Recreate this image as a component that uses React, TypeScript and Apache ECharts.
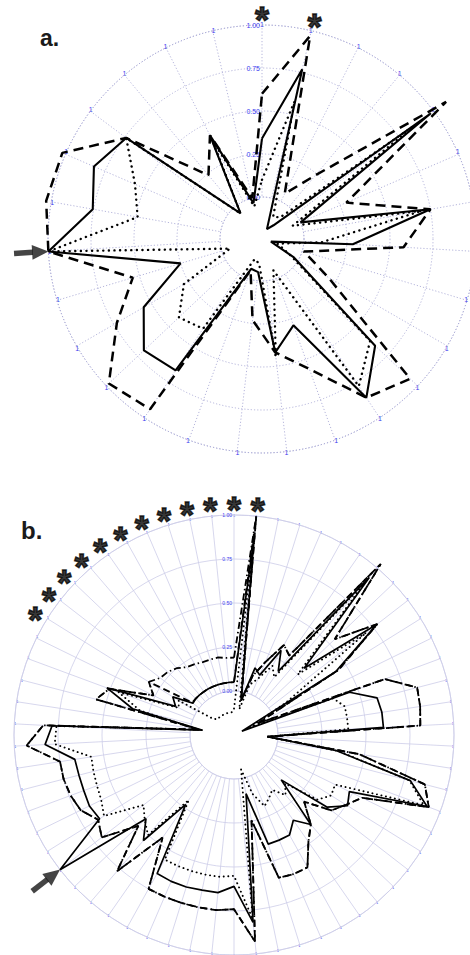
import React, { useEffect, useRef } from 'react';
import * as echarts from 'echarts';

// ---------- data ----------
const spokeLabel = '1';
const radiusTicks = [0, 0.25, 0.5, 0.75, 1];

// panel a: 27 categories (clockwise from top)
const aSolid = [0.34, 0.77, -0.18, -0.14, 0.98, 0.0, 0.75, 0.285, -0.19, -0.03, 0.66, 0.86, 0.29, 0.42, -0.05, -0.06, 0.67, 0.70, 0.55, 0.25, 1.0, 0.755, 0.82, 0.74, -0.05, 0.43, -0.03];
const aDashed = [0.6, 0.97, 0.05, 0.24, 1.09, 0.29, 0.75, 0.58, 0.01, 0.2, 0.94, 0.86, 0.56, 0.42, 0.23, -0.05, 0.94, 0.98, 0.73, 0.54, 1.0, 1.03, 1.02, 0.74, 0.24, 0.43, 0.0];
const aDotted = [0.1, 0.58, -0.1, -0.08, 0.85, -0.05, 0.7, 0.1, -0.15, -0.05, 0.62, 0.78, -0.05, 0.45, -0.1, -0.12, 0.38, 0.42, 0.28, -0.05, 1.0, 0.49, 0.56, 0.74, -0.05, 0.4, -0.05];
const aStars = [0, 1];
const aArrow = 20;

// panel b: 62 categories (clockwise from top)
const bSolid = [0.05, 0.875, -0.05, 0.15, 0.12, 0.30, 0.19, 0.93, 0.30, 0.775, 0.43, -0.2, 0.45, 0.59, 0.60, 0.60, -0.06, 0.34, 0.785, 0.92, 0.48, 0.51, 0.42, 0.12, 0.42, 0.34, 0.40, 0.40, 0.40, 0.09, 0.82, 0.61, 0.65, 0.65, 0.655, 0.655, 0.65, 0.23, 0.54, 0.44, 1.0, 0.65, 0.665, 0.66, 0.66, 0.665, 0.825, 0.785, -0.07, 0.345, 0.52, 0.12, 0.16, 0.045, 0.05, 0.05, 0.05, 0.05, 0.05, 0.05, 0.05, 0.05];
const bDashed = [0.05, 1.0, -0.05, 0.1, 0.2, 0.335, 0.3, 1.03, 0.54, 0.78, 0.45, -0.1, 0.665, 0.825, 0.82, 0.81, -0.06, 0.47, 0.87, 0.93, 0.56, 0.5, 0.45, 0.3, 0.42, 0.49, 0.61, 0.61, 0.6, 0.245, 0.93, 0.74, 0.75, 0.75, 0.75, 0.75, 0.75, 0.46, 0.77, 0.5, 0.7, 0.66, 0.72, 0.74, 0.75, 0.75, 0.93, 0.835, -0.05, 0.56, 0.505, 0.26, 0.32, 0.05, 0.05, 0.05, 0.05, 0.05, 0.05, 0.05, 0.05, 0.05];
const bDashDot = [0.19, 1.0, -0.05, 0.1, 0.2, 0.335, 0.3, 1.03, 0.54, 0.78, 0.45, -0.1, 0.665, 0.825, 0.82, 0.81, -0.06, 0.47, 0.87, 0.93, 0.56, 0.5, 0.45, 0.3, 0.42, 0.49, 0.61, 0.61, 0.6, 0.245, 0.93, 0.74, 0.75, 0.75, 0.75, 0.75, 0.75, 0.46, 0.77, 0.5, 0.7, 0.66, 0.72, 0.74, 0.75, 0.75, 0.93, 0.835, -0.05, 0.56, 0.505, 0.26, 0.32, 0.28, 0.27, 0.25, 0.22, 0.21, 0.2, 0.2, 0.2, 0.19];
const bDotted = [-0.1, 0.85, -0.1, 0.05, 0.1, 0.2, 0.15, 0.88, 0.25, 0.7, 0.1, -0.15, 0.35, 0.4, 0.4, 0.4, -0.06, 0.35, 0.78, 0.9, 0.39, 0.4, 0.35, 0.15, 0.2, 0.13, 0.16, 0.19, 0.1, -0.05, 0.8, 0.55, 0.56, 0.56, 0.56, 0.56, 0.56, 0.2, 0.5, 0.45, 0.4, 0.62, 0.59, 0.58, 0.575, 0.57, 0.77, 0.76, -0.05, 0.3, 0.45, 0.1, 0.12, -0.1, -0.12, -0.12, -0.12, -0.12, -0.12, -0.12, -0.12, -0.12];
const bStars = [1, 0, 61, 60, 59, 58, 57, 56, 55, 54, 53, 52];
const bArrow = 40;

// annotation radii (in data units)
const STAR_R = 1.08;
const ARROW_SHAFT = 1.145;
const ARROW_HEAD = 1.047;

// ---------- layout ----------
const A = { center: [262, 239], inner: 42, outer: 214 };
const B = { center: [234, 735], inner: 44, outer: 220 };
const DATA_MAX = 1.3;
const FONT = 'Liberation Sans, Arial, sans-serif';

const closed = (vals: number[]) => [...vals.map((v, i) => [v, i]), [vals[0], vals.length]];

function gridAxes(pi: number, n: number, g: any) {
  const ls = { color: g.color, width: 0.8, type: g.type };
  return {
    angleAxis: {
      polarIndex: pi, type: 'value', min: 0, max: n, interval: 1, startAngle: 90, clockwise: true,
      axisLine: { show: true, lineStyle: ls },
      axisTick: { show: false },
      axisLabel: {
        show: true, formatter: (v: number) => (v < n ? spokeLabel : ''),
        color: '#3b3bf0', fontSize: g.spokeFont, margin: g.spokeMargin, fontFamily: FONT,
      },
      splitLine: { show: true, lineStyle: ls },
    },
    radiusAxis: {
      polarIndex: pi, type: 'value',
      min: radiusTicks[0], max: radiusTicks[radiusTicks.length - 1], interval: radiusTicks[1] - radiusTicks[0],
      axisLine: { show: false }, axisTick: { show: false },
      axisLabel: { show: true, formatter: (v: number) => v.toFixed(2), color: '#3b3bf0', fontSize: g.tickFont, margin: 2, fontFamily: FONT },
      splitLine: { show: true, lineStyle: ls },
      z: 1,
    },
  };
}

// an invisible polar sharing the centre, reaching the axis centre, so marks are never clipped
function dataAxes(pi: number, n: number, p: any) {
  const unit = p.outer - p.inner;
  return {
    polar: { center: p.center, radius: [0, p.inner + DATA_MAX * unit] },
    angleAxis: {
      polarIndex: pi, type: 'value', min: 0, max: n, startAngle: 90, clockwise: true,
      axisLine: { show: false }, axisTick: { show: false }, axisLabel: { show: false }, splitLine: { show: false },
    },
    radiusAxis: {
      polarIndex: pi, type: 'value', min: -p.inner / unit, max: DATA_MAX,
      axisLine: { show: false }, axisTick: { show: false }, axisLabel: { show: false }, splitLine: { show: false },
    },
  };
}

function lineSeries(pi: number, vals: number[], lineStyle: any) {
  return {
    type: 'line', coordinateSystem: 'polar', polarIndex: pi, data: closed(vals),
    showSymbol: false, symbol: 'none', silent: true, z: 5,
    lineStyle: { color: '#000', ...lineStyle },
  };
}

function starSeries(pi: number, idx: number[], fontSize: number) {
  return {
    type: 'scatter', coordinateSystem: 'polar', polarIndex: pi,
    data: idx.map((i) => [STAR_R, i]),
    symbol: 'circle', symbolSize: 1, itemStyle: { color: 'rgba(0,0,0,0)' },
    silent: true, clip: false, z: 6,
    label: {
      show: true, position: 'inside', formatter: '*', color: '#000', fontSize,
      fontWeight: 'bold', fontFamily: FONT, offset: [0, fontSize * 0.27],
      textBorderColor: '#000', textBorderWidth: 1.4,
    },
  };
}

function arrowSeries(pi: number, n: number, idx: number, unit: number) {
  const rot = 180 - (idx * 360) / n;
  const common = { type: 'scatter', coordinateSystem: 'polar', polarIndex: pi, silent: true, clip: false, z: 6, symbolRotate: rot, itemStyle: { color: '#151515' } };
  return [
    { ...common, data: [[ARROW_SHAFT, idx]], symbol: 'rect', symbolSize: [5.5, 0.11 * unit] },
    { ...common, data: [[ARROW_HEAD, idx]], symbol: 'triangle', symbolSize: [15, 0.095 * unit] },
  ];
}

export default function App() {
  const ref = useRef<HTMLDivElement>(null);
  useEffect(() => {
    if (!ref.current) return;
    const chart = echarts.init(ref.current, undefined, { renderer: 'svg' });
    const ga = gridAxes(0, aSolid.length, { color: '#a2a2d2', type: [1.2, 2], spokeFont: 7, spokeMargin: -3, tickFont: 7 });
    const gb = gridAxes(1, bSolid.length, { color: '#cdcde8', type: 'solid', spokeFont: 4, spokeMargin: -2, tickFont: 5 });
    const da = dataAxes(2, aSolid.length, A);
    const db = dataAxes(3, bSolid.length, B);
    const option: any = {
      animation: false,
      backgroundColor: '#fff',
      title: [
        { text: 'a.', left: 35, top: 21, textStyle: { fontSize: 23, fontWeight: 'bold', color: '#1a1a1a', fontFamily: FONT } },
        { text: 'b.', left: 16, top: 513, textStyle: { fontSize: 24, fontWeight: 'bold', color: '#1a1a1a', fontFamily: FONT } },
      ],
      polar: [
        { center: A.center, radius: [A.inner, A.outer] },
        { center: B.center, radius: [B.inner, B.outer] },
        da.polar,
        db.polar,
      ],
      angleAxis: [ga.angleAxis, gb.angleAxis, da.angleAxis, db.angleAxis],
      radiusAxis: [ga.radiusAxis, gb.radiusAxis, da.radiusAxis, db.radiusAxis],
      series: [
        lineSeries(2, aDotted, { width: 2.4, type: [0.1, 5.5], cap: 'round' }),
        lineSeries(2, aDashed, { width: 2.5, type: [10, 6] }),
        lineSeries(2, aSolid, { width: 2.1 }),
        starSeries(2, aStars, 36),
        ...arrowSeries(2, aSolid.length, aArrow, A.outer - A.inner),
        lineSeries(3, bDotted, { width: 1.9, type: [0.1, 4.5], cap: 'round' }),
        lineSeries(3, bDashed, { width: 1.8, type: [7, 4] }),
        lineSeries(3, bDashDot, { width: 1.8, type: [7, 3, 1.5, 3] }),
        lineSeries(3, bSolid, { width: 1.7 }),
        starSeries(3, bStars, 36),
        ...arrowSeries(3, bSolid.length, bArrow, B.outer - B.inner),
      ],
    };
    chart.setOption(option);
    return () => chart.dispose();
  }, []);
  return <div ref={ref} style={{ position: 'absolute', left: 0, top: 0, width: 470, height: 955 }} />;
}
